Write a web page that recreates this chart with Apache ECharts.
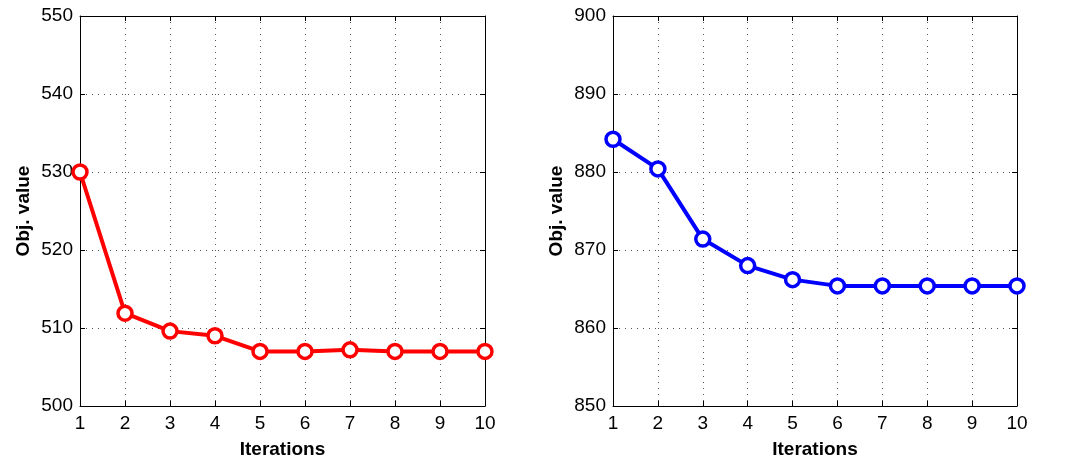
<!DOCTYPE html>
<html>
<head>
    <meta charset="utf-8">
    <title>Obj. value vs Iterations</title>
    <script src="https://cdn.jsdelivr.net/npm/echarts@6/dist/echarts.min.js"></script>
    <style>
        html, body { margin: 0; padding: 0; background: #ffffff; }
        #chart { width: 1069px; height: 460px; }
    </style>
</head>
<body>
<div id="chart"></div>
<script>
// data
var iterations = [1, 2, 3, 4, 5, 6, 7, 8, 9, 10];
var leftValues = [530.0, 511.9, 509.6, 509.0, 507.0, 507.0, 507.2, 507.0, 507.0, 507.0];
var rightValues = [884.2, 880.4, 871.4, 868.0, 866.2, 865.4, 865.4, 865.4, 865.4, 865.4];
var leftRange = [500, 550];
var rightRange = [850, 900];

var font = 'Liberation Sans, Arial, Helvetica, sans-serif';

function pairs(xs, ys) {
    var out = [];
    for (var i = 0; i < xs.length; i++) out.push([xs[i], ys[i]]);
    return out;
}

function xAxes(gridIndex) {
    var main = {
        type: 'value', gridIndex: gridIndex, min: 1, max: 10, interval: 1,
        name: 'Iterations', nameLocation: 'middle', nameGap: 34,
        nameTextStyle: { fontFamily: font, fontSize: 19, fontWeight: 'bold', color: '#000' },
        axisLine: { show: true, onZero: false, lineStyle: { color: '#000', width: 1 } },
        axisTick: { show: true, inside: true, length: 5, lineStyle: { color: '#000' } },
        axisLabel: { fontFamily: font, fontSize: 19, color: '#000', margin: 8 },
        splitLine: { show: true, lineStyle: { color: '#555', type: [1, 5], width: 1 } }
    };
    var top = {
        type: 'value', gridIndex: gridIndex, min: 1, max: 10, interval: 1, position: 'top',
        axisLine: { show: true, onZero: false, lineStyle: { color: '#000', width: 1 } },
        axisTick: { show: true, inside: true, length: 5, lineStyle: { color: '#000' } },
        axisLabel: { show: false },
        splitLine: { show: false }
    };
    return [main, top];
}

function yAxes(gridIndex, range) {
    var main = {
        type: 'value', gridIndex: gridIndex, min: range[0], max: range[1], interval: 10,
        name: 'Obj. value', nameLocation: 'middle', nameGap: 47,
        nameTextStyle: { fontFamily: font, fontSize: 19, fontWeight: 'bold', color: '#000' },
        axisLine: { show: true, onZero: false, lineStyle: { color: '#000', width: 1 } },
        axisTick: { show: true, inside: true, length: 5, lineStyle: { color: '#000' } },
        axisLabel: { fontFamily: font, fontSize: 19, color: '#000', margin: 7 },
        splitLine: { show: true, lineStyle: { color: '#555', type: [1, 5], width: 1 } }
    };
    var right = {
        type: 'value', gridIndex: gridIndex, min: range[0], max: range[1], interval: 10, position: 'right',
        axisLine: { show: true, onZero: false, lineStyle: { color: '#000', width: 1 } },
        axisTick: { show: true, inside: true, length: 5, lineStyle: { color: '#000' } },
        axisLabel: { show: false },
        splitLine: { show: false }
    };
    return [main, right];
}

function lineSeries(xIdx, yIdx, data, color) {
    return {
        type: 'line', xAxisIndex: xIdx, yAxisIndex: yIdx,
        data: data,
        symbol: 'circle', symbolSize: 14,
        lineStyle: { color: color, width: 4 },
        itemStyle: { color: '#ffffff', borderColor: color, borderWidth: 3.5 },
        animation: false, z: 5
    };
}

var chart = echarts.init(document.getElementById('chart'), null, { renderer: 'canvas' });

var option = {
    backgroundColor: '#ffffff',
    animation: false,
    grid: [
        { left: 80, right: 584, top: 16, bottom: 54, outerBoundsMode: 'none' },
        { left: 613, right: 52, top: 16, bottom: 54, outerBoundsMode: 'none' }
    ],
    xAxis: xAxes(0).concat(xAxes(1)),
    yAxis: yAxes(0, leftRange).concat(yAxes(1, rightRange)),
    series: [
        lineSeries(0, 0, pairs(iterations, leftValues), '#ff0000'),
        lineSeries(2, 2, pairs(iterations, rightValues), '#0000ff')
    ]
};

chart.setOption(option);
</script>
</body>
</html>
